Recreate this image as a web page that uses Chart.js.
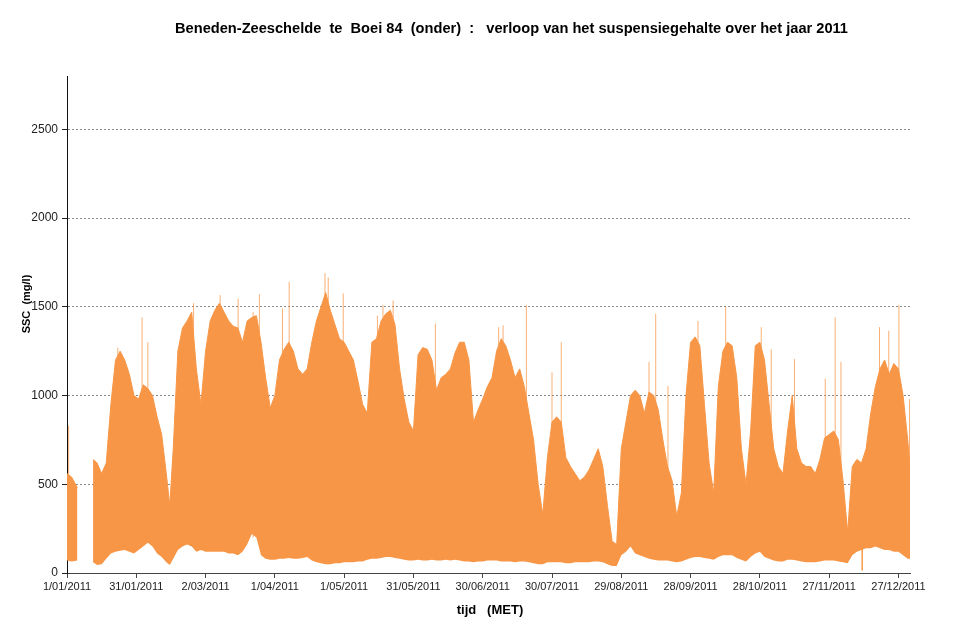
<!DOCTYPE html>
<html>
<head>
<meta charset="utf-8">
<script src="https://cdn.jsdelivr.net/npm/chart.js"></script>
<style>
  html, body { margin: 0; padding: 0; background: #ffffff; }
  #wrap { width: 955px; height: 638px; position: relative; }
</style>
</head>
<body>
<div id="wrap"><canvas id="c" width="955" height="638"></canvas></div>
<script>
// ---- data (days since 1 Jan 2011, SSC in mg/l) ----
const titleText = 'Beneden-Zeeschelde  te  Boei 84  (onder)  :   verloop van het suspensiegehalte over het jaar 2011';
const xTitleText = 'tijd   (MET)';
const yTitleText = 'SSC  (mg/l)';

const envDays = [0,2,4.5,7,11.3,13,15,17,19,21,23,25,27,29,31,33,35,37,39,41,43,44.5,46,48,50,52,54,56,58,60,62,64,66,68,70,72,74,76,78,80,82,84,86,88,90,92,94,96,98,100,102,104,106,108,110,112,114,116,118,120,122,124,126,128,130,132,134,136,138,140,142,144,146,148,150,152,154,156,158,160,162,164,166,168,170,172,174,176,178,180,182,184,186,188,190,192,194,196,198,200,202,204,206,208,210,212,214,216,218,220,222,224,226,228,230,232,234,236,238,240,242,244,246,248,250,252,254,256,258,260,262,264,266,268,270,272,274,276,278,280,282,284,286,288,290,292,294,296,298,300,302,304,306,308,310,312,314,316,318,320,322,324,326,328,330,332,334,336,338,340,342,344,346,348,350,352,354,356,358,360,362,364,365];

const upperEnv = [560,540,480,null,640,620,560,620,950,1200,1250,1200,1120,1000,980,1060,1040,1000,880,780,560,380,700,1250,1380,1420,1470,1150,950,1250,1420,1480,1520,1470,1420,1390,1380,1300,1420,1440,1450,1300,1100,930,1000,1200,1260,1300,1250,1150,1120,1150,1300,1420,1500,1580,1480,1400,1320,1300,1250,1200,1080,950,900,1300,1320,1420,1460,1480,1400,1150,980,850,800,1230,1270,1260,1200,1030,1100,1120,1150,1240,1300,1300,1200,850,920,980,1050,1100,1250,1320,1280,1200,1100,1150,1050,900,750,500,330,650,850,880,850,650,600,560,520,540,580,640,700,600,380,180,160,700,850,1000,1030,1000,900,1020,1000,920,750,600,520,320,450,1000,1300,1330,1280,950,620,450,1050,1250,1300,1280,1100,700,500,800,1280,1300,1200,950,700,600,560,800,1000,700,620,600,600,560,640,760,780,800,750,520,230,600,640,620,700,900,1050,1150,1200,1120,1180,1150,1000,750,600];

const lowerEnv = [70,65,70,null,60,45,50,80,110,120,125,130,120,110,130,150,170,150,110,90,60,45,80,130,150,160,150,120,130,120,120,120,120,120,110,110,100,120,160,220,200,100,80,75,75,80,80,85,80,80,85,90,70,60,55,50,50,55,55,60,60,60,65,65,75,80,80,85,90,90,85,80,75,70,70,75,70,70,75,70,70,75,70,75,70,65,65,60,65,65,70,70,70,65,65,65,60,65,65,60,55,50,50,60,60,60,60,55,55,60,60,60,60,65,65,60,50,40,40,100,120,150,110,100,90,80,75,70,70,70,65,60,65,75,85,90,90,85,80,75,90,100,100,100,85,75,65,90,110,120,90,80,70,65,65,75,75,70,65,60,60,60,65,70,70,70,65,60,55,100,120,130,140,140,150,140,130,130,120,120,100,80,80];

// isolated spikes above the dense band (day, peak value)
const spikeDays  = [0.7,22,32.5,35,54.8,66.3,74.1,80.6,83.3,93.3,96.2,111.7,113.1,119.6,134.4,136.8,141.2,159.5,186.9,188.8,198.9,210,214,252,254.9,260.2,273.2,285.2,300.6,304.9,315,328.3,332.6,335.1,351.8,355.8,360.2,364.8];
const spikeVals  = [830,1270,1440,1300,1520,1565,1545,1470,1570,1490,1640,1690,1665,1575,1450,1510,1535,1405,1385,1395,1510,1130,1300,1190,1460,1055,1420,1500,1385,1260,1205,1095,1440,1190,1385,1365,1510,980];
// isolated downward spike
const dipDays = [344.3];
const dipVals = [15];

const xTickDays   = [0,30,60,90,120,150,180,210,240,270,300,330,360];
const xTickLabels = ['1/01/2011','31/01/2011','2/03/2011','1/04/2011','1/05/2011','31/05/2011','30/06/2011','30/07/2011','29/08/2011','28/09/2011','28/10/2011','27/11/2011','27/12/2011'];
const yTickValues = [0,500,1000,1500,2000,2500];

// ---- build datasets ----
const lowerData = envDays.map((d, i) => ({x: d, y: lowerEnv[i]}));
const upperData = envDays.map((d, i) => ({x: d, y: upperEnv[i]}));
const spikeData = [];
spikeDays.forEach((d, i) => {
  spikeData.push({x: d, y: 200}, {x: d, y: spikeVals[i]}, {x: d, y: null});
});
dipDays.forEach((d, i) => {
  spikeData.push({x: d, y: 400}, {x: d, y: dipVals[i]}, {x: d, y: null});
});

const ORANGE = 'rgb(247,150,70)';

const textPlugin = {
  id: 'texts',
  afterDraw(chart) {
    const ctx = chart.ctx;
    ctx.save();
    ctx.fillStyle = '#000';
    ctx.textAlign = 'center';
    ctx.textBaseline = 'middle';
    ctx.font = 'bold 14px "Liberation Sans", Arial, sans-serif';
    const w = ctx.measureText(titleText).width;
    const target = 673;
    ctx.save();
    ctx.translate(511.5, 29);
    ctx.scale(target / w, 1);
    ctx.fillText(titleText, 0, 0);
    ctx.restore();
    ctx.font = 'bold 13px "Liberation Sans", Arial, sans-serif';
    ctx.fillText(xTitleText, 490, 610);
    ctx.font = 'bold 11px "Liberation Sans", Arial, sans-serif';
    ctx.save();
    ctx.translate(27, 304);
    ctx.rotate(-Math.PI / 2);
    ctx.fillText(yTitleText, 0, 0);
    ctx.restore();
    ctx.restore();
  }
};

new Chart(document.getElementById('c'), {
  type: 'line',
  data: {
    datasets: [
      { data: lowerData, borderWidth: 0, borderColor: ORANGE, pointRadius: 0, fill: false, spanGaps: false },
      { data: upperData, borderWidth: 1, borderColor: ORANGE, backgroundColor: ORANGE, pointRadius: 0, fill: '-1', spanGaps: false },
      { data: spikeData, borderWidth: 1, borderColor: 'rgba(247,150,70,0.75)', pointRadius: 0, fill: false, spanGaps: false }
    ]
  },
  options: {
    responsive: false,
    animation: false,
    layout: { padding: { left: 0, right: 45, top: 76, bottom: 0 } },
    plugins: { legend: { display: false }, title: { display: false }, tooltip: { enabled: false } },
    elements: { line: { tension: 0 } },
    scales: {
      x: {
        type: 'linear',
        min: 0,
        max: 365,
        afterBuildTicks: s => { s.ticks = xTickDays.map(v => ({value: v})); },
        afterFit: s => { s.height = 65; },
        ticks: {
          autoSkip: false, maxRotation: 0, minRotation: 0,
          callback: (v, i) => xTickLabels[i],
          font: { family: '"Liberation Sans", Arial, sans-serif', size: 11 },
          color: '#222', padding: 2
        },
        grid: { drawOnChartArea: false, drawTicks: true, tickLength: 5, tickColor: '#444', color: '#444' },
        border: { color: '#444', width: 1 }
      },
      y: {
        type: 'linear',
        min: 0,
        max: 2800,
        afterBuildTicks: s => { s.ticks = yTickValues.map(v => ({value: v})); },
        afterFit: s => { s.width = 67; },
        ticks: {
          callback: v => String(v),
          font: { family: '"Liberation Sans", Arial, sans-serif', size: 12 },
          color: '#222', padding: 4
        },
        grid: {
          color: c => (c.tick && c.tick.value === 0) ? 'rgba(0,0,0,0)' : '#8a8a8a',
          tickColor: '#222', tickLength: 5, lineWidth: 1
        },
        border: { color: '#111', width: 1, dash: [2, 2] }
      }
    }
  },
  plugins: [textPlugin]
});
</script>
</body>
</html>
